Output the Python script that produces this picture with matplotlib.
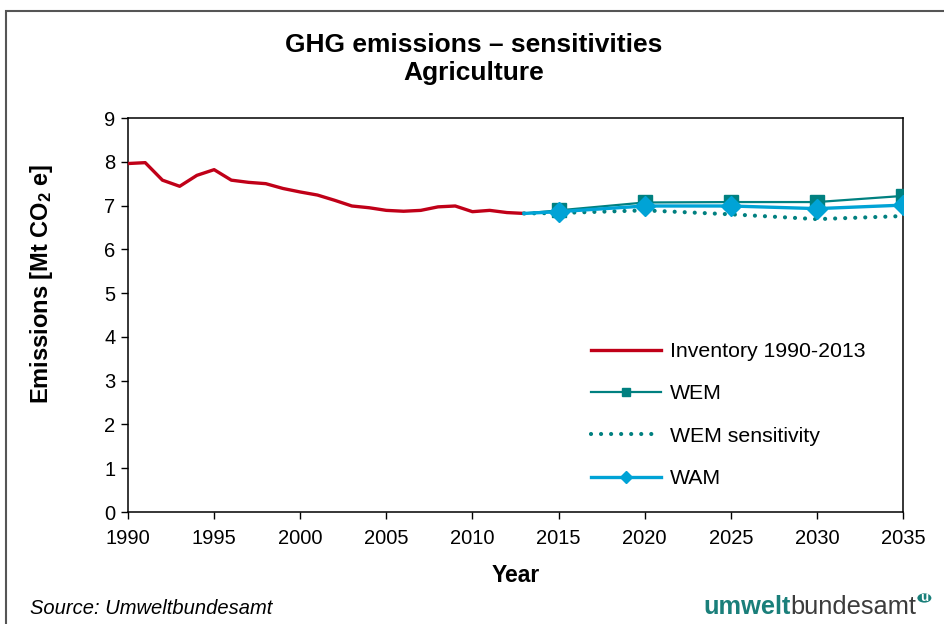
import matplotlib
matplotlib.use("Agg")
import matplotlib.pyplot as plt
from matplotlib.patches import Rectangle, Circle

plt.rcParams['font.family'] = ['Liberation Sans', 'DejaVu Sans']
plt.rcParams['mathtext.fontset'] = 'custom'
plt.rcParams['mathtext.rm'] = 'Liberation Sans:bold'
plt.rcParams['mathtext.bf'] = 'Liberation Sans:bold'
plt.rcParams['mathtext.default'] = 'bf'

# Inventory 1990-2013
inv_years = list(range(1990, 2014))
inv_values = [7.96, 7.98, 7.58, 7.44, 7.69, 7.82, 7.58, 7.53, 7.50, 7.39,
              7.31, 7.24, 7.12, 6.99, 6.95, 6.89, 6.87, 6.89, 6.97, 6.99,
              6.86, 6.89, 6.84, 6.82]

# Projections (start at last inventory year)
proj_years = [2013, 2015, 2020, 2025, 2030, 2035]
wem_values = [6.82, 6.89, 7.07, 7.08, 7.08, 7.22]
wem_sens_values = [6.82, 6.83, 6.89, 6.80, 6.69, 6.76]
wam_values = [6.82, 6.86, 6.99, 6.99, 6.93, 7.01]

x_ticks = [1990, 1995, 2000, 2005, 2010, 2015, 2020, 2025, 2030, 2035]
y_ticks = [0, 1, 2, 3, 4, 5, 6, 7, 8, 9]

RED = '#C00018'
TEAL = '#008080'
CYAN = '#00A3D6'
LOGO = '#1A7F7A'

W, H = 944, 624
fig = plt.figure(figsize=(W / 100, H / 100), dpi=100)

# outer frame of the figure
fig.patches.append(Rectangle((6 / W, -0.05), 1.1, (H - 11) / H + 0.05,
                             transform=fig.transFigure, fill=False,
                             edgecolor='#555555', linewidth=1.5))

ax = fig.add_axes([128 / W, (H - 512) / H, 775 / W, 394 / H])

ax.plot(inv_years, inv_values, color=RED, linewidth=2.4, zorder=3,
        label='Inventory 1990-2013', solid_joinstyle='round')
ax.plot(proj_years, wem_values, color=TEAL, linewidth=1.6, marker='s',
        markersize=10, markevery=list(range(1, 6)), zorder=4, label='WEM')
ax.plot(proj_years, wem_sens_values, color=TEAL, linewidth=3,
        linestyle=(0, (0.01, 2.4)), dash_capstyle='round', zorder=4,
        label='WEM sensitivity')
ax.plot(proj_years, wam_values, color=CYAN, linewidth=2.4, marker='D',
        markersize=10, markevery=list(range(1, 6)), zorder=5, label='WAM')

ax.set_xlim(1990, 2035)
ax.set_ylim(0, 9)
ax.set_xticks(x_ticks)
ax.set_yticks(y_ticks)
ax.tick_params(axis='both', direction='out', length=5, width=1,
               labelsize=14.5, pad=4, colors='black')
ax.tick_params(axis='x', pad=7)
for s in ax.spines.values():
    s.set_linewidth(1.1)
    s.set_color('black')

ax.set_xlabel('Year', fontsize=16.5, fontweight='bold', labelpad=12)
ax.set_ylabel('Emissions [Mt CO$_2$ e]', fontsize=17, fontweight='bold',
              va='center')
ax.yaxis.set_label_coords(-0.111, 0.579)

fig.text(474 / W, 1 - 59 / H, 'GHG emissions \u2013 sensitivities\nAgriculture',
         ha='center', va='center', fontsize=19, fontweight='bold',
         linespacing=1.22)

leg = ax.legend(loc='upper left', bbox_to_anchor=(0.573, 0.48), frameon=False,
                fontsize=15.3, handlelength=3.3, labelspacing=1.1,
                handletextpad=0.4, markerscale=0.6)

fig.text(30 / W, 1 - 609 / H, 'Source: Umweltbundesamt', fontsize=14.5,
         style='italic', ha='left', va='center')

t1 = fig.text(703 / W, 1 - 607 / H, 'umwelt', fontsize=18.3, fontweight='bold',
              color=LOGO, ha='left', va='center')
t2 = fig.text(0, 0, 'bundesamt', fontsize=18.3, color='#3C3C3C', ha='left',
              va='center')
fig.canvas.draw()
r = fig.canvas.get_renderer()
bb = t1.get_window_extent(r)
t2.set_position((bb.x1 / W, 1 - 607 / H))
bb2 = t2.get_window_extent(r)
cx, cy = bb2.x1 + 8, H - 598
fig.patches.append(Circle((cx / W, cy / H), 7 / W, transform=fig.transFigure,
                          facecolor=LOGO, edgecolor='none'))
fig.text(cx / W, cy / H, 'u', fontsize=9.5, fontweight='bold', color='white',
         ha='center', va='center')

fig.savefig('out.png', dpi=100)
